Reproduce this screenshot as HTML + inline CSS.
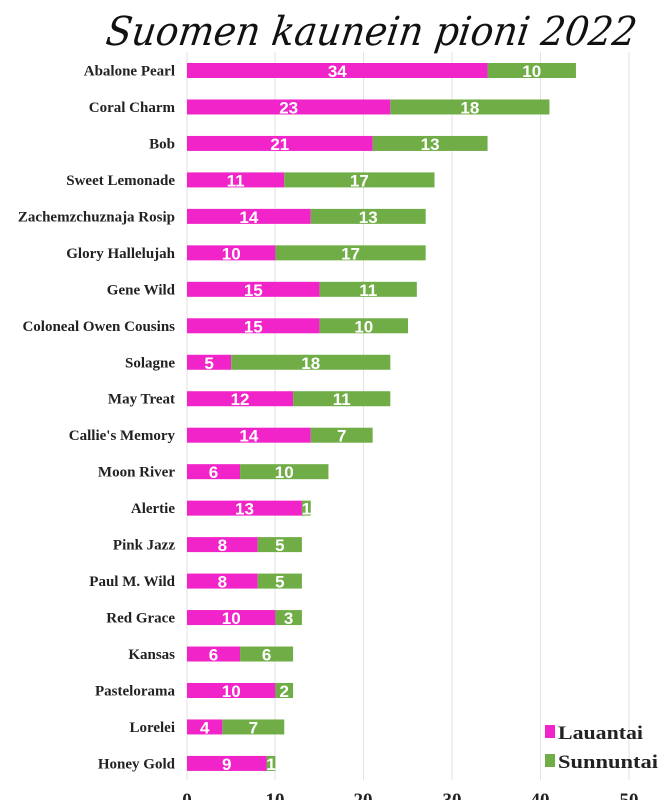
<!DOCTYPE html>
<html><head><meta charset="utf-8"><style>
html,body{margin:0;padding:0;background:#fff;width:659px;height:800px;overflow:hidden}
</style></head><body>
<svg width="659" height="800" xmlns="http://www.w3.org/2000/svg">
<text x="370" y="45" text-anchor="middle" font-family="'DejaVu Serif','Liberation Serif',serif" font-style="italic" font-size="40" fill="#111" transform="skewX(-8) translate(6,0)" textLength="530" lengthAdjust="spacingAndGlyphs">Suomen kaunein pioni 2022</text>
<g stroke="#e2e2e2" stroke-width="1">
<line x1="187" y1="52" x2="187" y2="780"/><line x1="275" y1="52" x2="275" y2="780"/><line x1="363.5" y1="52" x2="363.5" y2="780"/><line x1="452" y1="52" x2="452" y2="780"/><line x1="540.5" y1="52" x2="540.5" y2="780"/><line x1="629" y1="52" x2="629" y2="780"/>
</g>
<g id="bars" font-family="'Liberation Sans',sans-serif" font-weight="bold"></g>
<g font-family="'Liberation Serif',serif" font-weight="bold" font-size="19" fill="#222">
<rect x="545" y="725" width="10" height="13" fill="#f024c8"/><text x="558" y="739" textLength="85" lengthAdjust="spacingAndGlyphs">Lauantai</text>
<rect x="545" y="754" width="10" height="13" fill="#70ad47"/><text x="558" y="768" textLength="100" lengthAdjust="spacingAndGlyphs">Sunnuntai</text>
<text x="187" y="806" text-anchor="middle">0</text><text x="275" y="806" text-anchor="middle">10</text><text x="363" y="806" text-anchor="middle">20</text><text x="452" y="806" text-anchor="middle">30</text><text x="540" y="806" text-anchor="middle">40</text><text x="629" y="806" text-anchor="middle">50</text>
</g>
</svg>
<script>
var d=[["Abalone Pearl",34,10],["Coral Charm",23,18],["Bob",21,13],["Sweet Lemonade",11,17],["Zachemzchuznaja Rosip",14,13],["Glory Hallelujah",10,17],["Gene Wild",15,11],["Coloneal Owen Cousins",15,10],["Solagne",5,18],["May Treat",12,11],["Callie's Memory",14,7],["Moon River",6,10],["Alertie",13,1],["Pink Jazz",8,5],["Paul M. Wild",8,5],["Red Grace",10,3],["Kansas",6,6],["Pastelorama",10,2],["Lorelei",4,7],["Honey Gold",9,1]];
var s="",u=8.84,x0=187;
d.forEach(function(r,i){var c=70.5+i*36.47,y=c-7.5,w1=r[1]*u,w2=r[2]*u;
s+='<text x="175" y="'+(c+5)+'" text-anchor="end" font-family="Liberation Serif,serif" font-size="15" fill="#222">'+r[0].replace("'","&#39;")+'</text>';
s+='<rect x="'+x0+'" y="'+y+'" width="'+w1+'" height="15" fill="#f024c8"/>';
s+='<rect x="'+(x0+w1)+'" y="'+y+'" width="'+w2+'" height="15" fill="#70ad47"/>';
s+='<text x="'+(x0+w1/2)+'" y="'+(c+6.5)+'" text-anchor="middle" font-size="17" fill="#fff">'+r[1]+'</text>';
s+='<text x="'+(x0+w1+w2/2)+'" y="'+(c+6.5)+'" text-anchor="middle" font-size="17" fill="#fff">'+r[2]+'</text>';});
document.getElementById("bars").innerHTML=s;
</script>
</body></html>
